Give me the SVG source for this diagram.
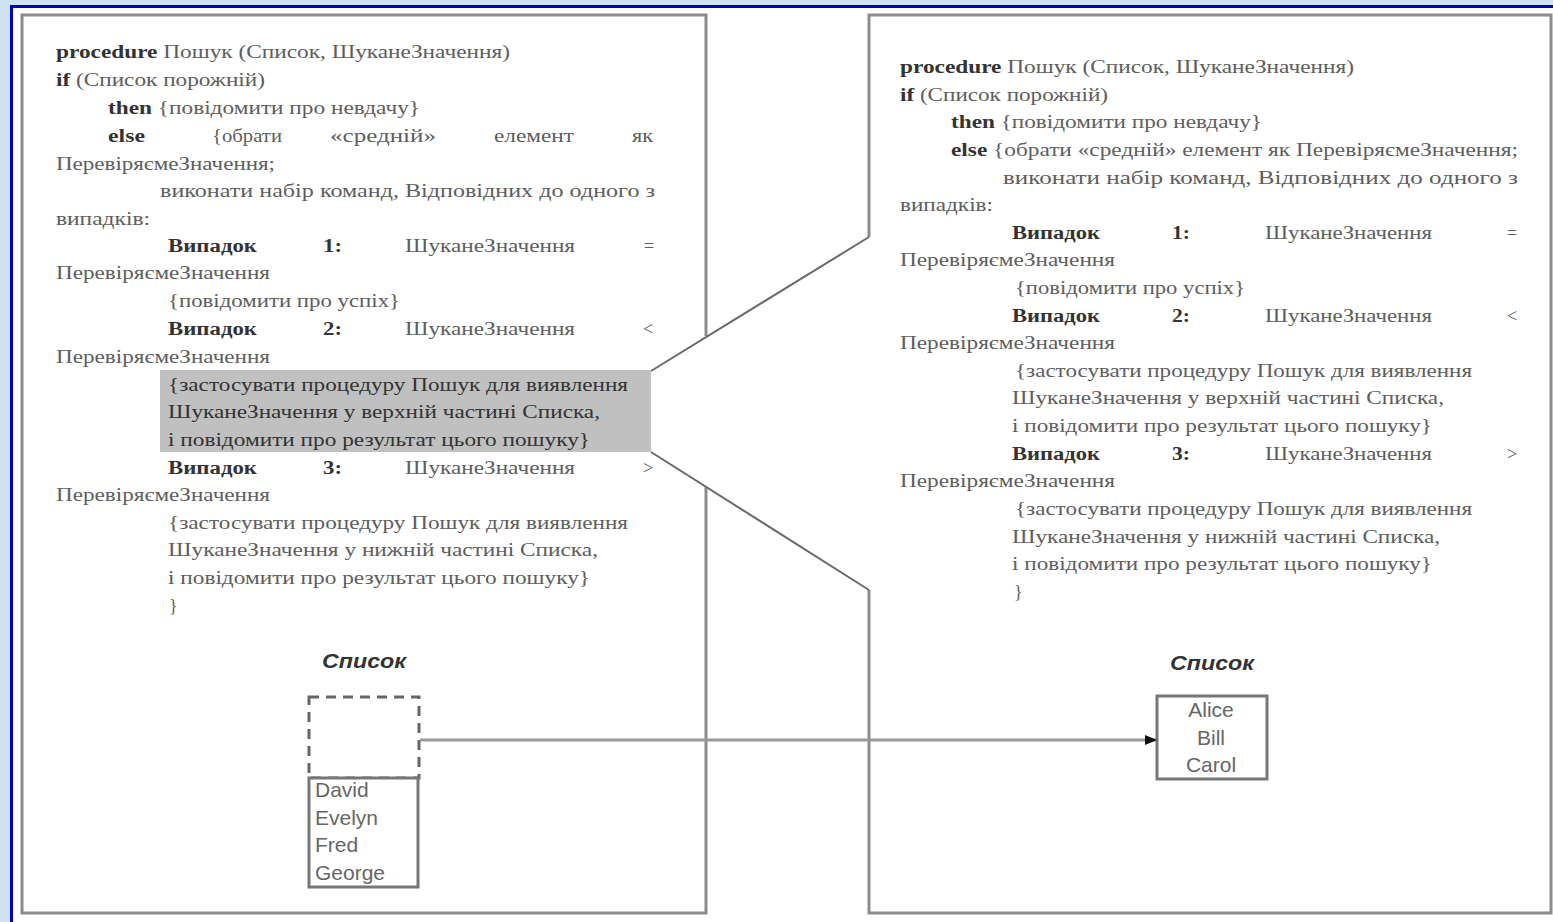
<svg xmlns="http://www.w3.org/2000/svg" width="1553" height="922" viewBox="0 0 1553 922">
  <style>
    .t { font-family: "Liberation Serif", "DejaVu Serif", serif; font-size: 18px; fill: #5e5e5e; }
    .b { font-weight: bold; fill: #333; }
    .hl { fill: #333; }
    .frame { fill: none; stroke: #8c8c8c; stroke-width: 3; }
    .cap { font-family: "Liberation Sans", Arial, sans-serif; font-size: 20px; font-weight: bold; font-style: italic; fill: #333; }
    .item { font-family: "Liberation Sans", Arial, sans-serif; font-size: 21px; fill: #666; }
    .box { fill: #fff; stroke: #777; stroke-width: 3; }
    .zoomline { fill: none; stroke: #6a6a6a; stroke-width: 2; }
  </style>
  <defs>
    <marker id="arrow" markerUnits="userSpaceOnUse" markerWidth="12" markerHeight="10" refX="11" refY="5" orient="auto">
      <path d="M0,0 L12,5 L0,10 z" fill="#111"/>
    </marker>
  </defs>

  <!-- slide background and blue edge -->
  <rect x="0" y="0" width="1553" height="922" fill="#cfe2f2"/>
  <rect x="10" y="5" width="1543" height="917" fill="#0000c8"/>
  <rect x="13" y="8" width="1540" height="914" fill="#ffffff"/>

  <!-- left panel: full procedure, highlighted case 2 branch -->
  <g id="left-panel">
    <path class="frame" d="M706 336 L706 15 L22 15 L22 913 L706 913 L706 487"/>
    <rect x="160" y="370" width="491" height="82" fill="#c0c0c0"/>
    <text class="t" x="56" y="58" textLength="454" lengthAdjust="spacingAndGlyphs"><tspan class="b">procedure</tspan> Пошук (Список, ШуканеЗначення)</text>
    <text class="t" x="56" y="86" textLength="209" lengthAdjust="spacingAndGlyphs"><tspan class="b">if</tspan> (Список порожній)</text>
    <text class="t" x="108" y="114" textLength="312" lengthAdjust="spacingAndGlyphs"><tspan class="b">then</tspan> {повідомити про невдачу}</text>
    <text class="t b" x="108" y="142" textLength="37" lengthAdjust="spacingAndGlyphs">else</text>
    <text class="t" x="212" y="142" textLength="70" lengthAdjust="spacingAndGlyphs">{обрати</text>
    <text class="t" x="330" y="142" textLength="106" lengthAdjust="spacingAndGlyphs">«средній»</text>
    <text class="t" x="494" y="142" textLength="80" lengthAdjust="spacingAndGlyphs">елемент</text>
    <text class="t" x="632" y="142" textLength="21" lengthAdjust="spacingAndGlyphs">як</text>
    <text class="t" x="56" y="170" textLength="219" lengthAdjust="spacingAndGlyphs">ПеревіряємеЗначення;</text>
    <text class="t" x="160" y="197" textLength="495" lengthAdjust="spacingAndGlyphs">виконати набір команд, Відповідних до одного з</text>
    <text class="t" x="56" y="225" textLength="94" lengthAdjust="spacingAndGlyphs">випадків:</text>

    <text class="t b" x="168" y="252" textLength="89" lengthAdjust="spacingAndGlyphs">Випадок</text>
    <text class="t b" x="323" y="252" textLength="19" lengthAdjust="spacingAndGlyphs">1:</text>
    <text class="t" x="405" y="252" textLength="170" lengthAdjust="spacingAndGlyphs">ШуканеЗначення</text>
    <text class="t" x="644" y="252">=</text>
    <text class="t" x="56" y="279" textLength="214" lengthAdjust="spacingAndGlyphs">ПеревіряємеЗначення</text>
    <text class="t" x="168" y="307" textLength="232" lengthAdjust="spacingAndGlyphs">{повідомити про успіх}</text>

    <text class="t b" x="168" y="335" textLength="89" lengthAdjust="spacingAndGlyphs">Випадок</text>
    <text class="t b" x="323" y="335" textLength="19" lengthAdjust="spacingAndGlyphs">2:</text>
    <text class="t" x="405" y="335" textLength="170" lengthAdjust="spacingAndGlyphs">ШуканеЗначення</text>
    <text class="t" x="643" y="335">&lt;</text>
    <text class="t" x="56" y="363" textLength="214" lengthAdjust="spacingAndGlyphs">ПеревіряємеЗначення</text>
    <text class="t hl" x="168" y="391" textLength="460" lengthAdjust="spacingAndGlyphs">{застосувати процедуру Пошук для виявлення</text>
    <text class="t hl" x="168" y="418" textLength="432" lengthAdjust="spacingAndGlyphs">ШуканеЗначення у верхній частині Списка,</text>
    <text class="t hl" x="168" y="446" textLength="422" lengthAdjust="spacingAndGlyphs">і повідомити про результат цього пошуку}</text>

    <text class="t b" x="168" y="474" textLength="89" lengthAdjust="spacingAndGlyphs">Випадок</text>
    <text class="t b" x="323" y="474" textLength="19" lengthAdjust="spacingAndGlyphs">3:</text>
    <text class="t" x="405" y="474" textLength="170" lengthAdjust="spacingAndGlyphs">ШуканеЗначення</text>
    <text class="t" x="643" y="474">&gt;</text>
    <text class="t" x="56" y="501" textLength="214" lengthAdjust="spacingAndGlyphs">ПеревіряємеЗначення</text>
    <text class="t" x="168" y="529" textLength="460" lengthAdjust="spacingAndGlyphs">{застосувати процедуру Пошук для виявлення</text>
    <text class="t" x="168" y="556" textLength="430" lengthAdjust="spacingAndGlyphs">ШуканеЗначення у нижній частині Списка,</text>
    <text class="t" x="168" y="584" textLength="422" lengthAdjust="spacingAndGlyphs">і повідомити про результат цього пошуку}</text>
    <text class="t" x="169" y="612">}</text>
  </g>

  <!-- left list: upper half searched out, lower half remains -->
  <g id="left-list">
    <text class="cap" x="322" y="668" textLength="84" lengthAdjust="spacingAndGlyphs">Список</text>
    <rect x="309" y="697" width="110" height="81" fill="none" stroke="#666" stroke-width="3" stroke-dasharray="10 7"/>
    <rect class="box" x="309" y="778" width="109" height="109"/>
    <text class="item" x="315" y="797">David</text>
    <text class="item" x="315" y="825">Evelyn</text>
    <text class="item" x="315" y="852">Fred</text>
    <text class="item" x="315" y="880">George</text>
  </g>

  <!-- right panel: recursive call on the upper half -->
  <g id="right-panel">
    <path class="frame" d="M869 237 L869 15 L1551 15 L1551 913 L869 913 L869 590"/>
    <text class="t" x="900" y="73" textLength="454" lengthAdjust="spacingAndGlyphs"><tspan class="b">procedure</tspan> Пошук (Список, ШуканеЗначення)</text>
    <text class="t" x="900" y="101" textLength="208" lengthAdjust="spacingAndGlyphs"><tspan class="b">if</tspan> (Список порожній)</text>
    <text class="t" x="951" y="128" textLength="311" lengthAdjust="spacingAndGlyphs"><tspan class="b">then</tspan> {повідомити про невдачу}</text>
    <text class="t" x="951" y="156" textLength="567" lengthAdjust="spacingAndGlyphs"><tspan class="b">else</tspan> {обрати «средній» елемент як ПеревіряємеЗначення;</text>
    <text class="t" x="1003" y="184" textLength="515" lengthAdjust="spacingAndGlyphs">виконати набір команд, Відповідних до одного з</text>
    <text class="t" x="900" y="211" textLength="93" lengthAdjust="spacingAndGlyphs">випадків:</text>

    <text class="t b" x="1012" y="239" textLength="88" lengthAdjust="spacingAndGlyphs">Випадок</text>
    <text class="t b" x="1172" y="239" textLength="18" lengthAdjust="spacingAndGlyphs">1:</text>
    <text class="t" x="1265" y="239" textLength="167" lengthAdjust="spacingAndGlyphs">ШуканеЗначення</text>
    <text class="t" x="1507" y="239">=</text>
    <text class="t" x="900" y="266" textLength="215" lengthAdjust="spacingAndGlyphs">ПеревіряємеЗначення</text>
    <text class="t" x="1015" y="294" textLength="230" lengthAdjust="spacingAndGlyphs">{повідомити про успіх}</text>

    <text class="t b" x="1012" y="322" textLength="88" lengthAdjust="spacingAndGlyphs">Випадок</text>
    <text class="t b" x="1172" y="322" textLength="18" lengthAdjust="spacingAndGlyphs">2:</text>
    <text class="t" x="1265" y="322" textLength="167" lengthAdjust="spacingAndGlyphs">ШуканеЗначення</text>
    <text class="t" x="1507" y="322">&lt;</text>
    <text class="t" x="900" y="349" textLength="215" lengthAdjust="spacingAndGlyphs">ПеревіряємеЗначення</text>
    <text class="t" x="1015" y="377" textLength="457" lengthAdjust="spacingAndGlyphs">{застосувати процедуру Пошук для виявлення</text>
    <text class="t" x="1012" y="404" textLength="432" lengthAdjust="spacingAndGlyphs">ШуканеЗначення у верхній частині Списка,</text>
    <text class="t" x="1012" y="432" textLength="420" lengthAdjust="spacingAndGlyphs">і повідомити про результат цього пошуку}</text>

    <text class="t b" x="1012" y="460" textLength="88" lengthAdjust="spacingAndGlyphs">Випадок</text>
    <text class="t b" x="1172" y="460" textLength="18" lengthAdjust="spacingAndGlyphs">3:</text>
    <text class="t" x="1265" y="460" textLength="167" lengthAdjust="spacingAndGlyphs">ШуканеЗначення</text>
    <text class="t" x="1507" y="460">&gt;</text>
    <text class="t" x="900" y="487" textLength="215" lengthAdjust="spacingAndGlyphs">ПеревіряємеЗначення</text>
    <text class="t" x="1015" y="515" textLength="457" lengthAdjust="spacingAndGlyphs">{застосувати процедуру Пошук для виявлення</text>
    <text class="t" x="1012" y="543" textLength="428" lengthAdjust="spacingAndGlyphs">ШуканеЗначення у нижній частині Списка,</text>
    <text class="t" x="1012" y="570" textLength="420" lengthAdjust="spacingAndGlyphs">і повідомити про результат цього пошуку}</text>
    <text class="t" x="1014" y="598">}</text>
  </g>

  <!-- right list: upper half passed to the recursive call -->
  <g id="right-list">
    <text class="cap" x="1170" y="670" textLength="84" lengthAdjust="spacingAndGlyphs">Список</text>
    <rect class="box" x="1157" y="696" width="110" height="83"/>
    <text class="item" x="1211" y="717" text-anchor="middle">Alice</text>
    <text class="item" x="1211" y="745" text-anchor="middle">Bill</text>
    <text class="item" x="1211" y="772" text-anchor="middle">Carol</text>
  </g>

  <!-- connectors -->
  <g id="connectors">
    <line class="zoomline" x1="651" y1="371" x2="869" y2="237"/>
    <line class="zoomline" x1="651" y1="452" x2="869" y2="590"/>
    <line x1="420" y1="740" x2="1156" y2="740" stroke="#999" stroke-width="3" marker-end="url(#arrow)"/>
  </g>
</svg>
